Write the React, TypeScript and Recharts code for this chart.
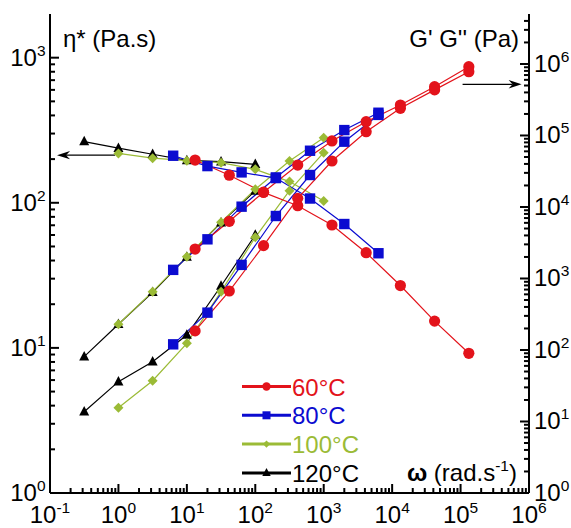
import React from 'react';
import { ComposedChart, Line, XAxis, YAxis, ReferenceLine, Customized } from 'recharts';

const FONT = '"Liberation Sans", Arial, Helvetica, sans-serif';
const FS = 24;
const SUP = 15.5;

const RED = '#E3131B';
const BLUE = '#0B0BD0';
const GREEN = '#9BBB36';
const BLACK = '#000000';

// ---- data ----
const omega60 = [13.2, 41.7, 132, 417, 1320, 4170, 13200, 41700, 132000];
const eta60 = [197, 155, 118, 95.5, 70.3, 45.3, 26.9, 15.3, 9.18];
const gpp60 = [2580, 6310, 16100, 38600, 83800, 156000, 267000, 481000, 916000];
const gp60 = [185, 668, 2880, 13200, 44000, 113000, 240000, 434000, 780000];

const omega80 = [6.31, 20, 63.1, 200, 631, 2000, 6310];
const eta80 = [211, 179, 162, 148, 107, 71.4, 44.9];
const gpp80 = [1320, 3530, 10100, 25900, 61200, 119000, 208000];
const gp80 = [120, 333, 1550, 7480, 28000, 81900, 194000];

const omega100 = [1, 3.16, 10, 31.6, 100, 316, 1000];
const eta100 = [219, 203, 195, 189, 170, 140, 103];
const gpp100 = [229, 655, 2020, 6110, 17700, 44000, 93100];
const gp100 = [15.6, 37.2, 124, 655, 3770, 16900, 57500];

const omega120 = [0.316, 1, 3.16, 10, 31.6, 100];
const eta120 = [264, 238, 216, 196, 192, 184];
const gpp120 = [80.7, 229, 640, 1990, 6040, 16800];
const gp120 = [13.7, 36.1, 68.7, 162, 785, 4060];

const legendLabels = ['60°C', '80°C', '100°C', '120°C'];

const xDomain = [0.1, 1e6];
const etaDomain = [1, 2000];
const gDomain = [1, 5e6];

// arrows (data coordinates)
const etaArrow = [{ x: 0.892, y: 213 }, { x: 0.1266, y: 213 }];
const gArrow = [{ x: 1.07e5, y: 5.2e5 }, { x: 7.8e5, y: 5.2e5 }];

// ---- helpers ----
const decadeTicks = (lo: number, hi: number, extra: number[] = []) => {
  const t: number[] = [];
  for (let e = lo; e < hi; e++) for (let m = 1; m <= 9; m++) t.push(m * Math.pow(10, e));
  t.push(Math.pow(10, hi));
  return t.concat(extra);
};
const xTicks = decadeTicks(-1, 6);
const etaTicks = decadeTicks(0, 3);
const gTicks = decadeTicks(0, 6, [2e6, 3e6, 4e6]);

const isMajor = (v: number) => Math.abs(Math.log10(v) - Math.round(Math.log10(v))) < 1e-6;
const expOf = (v: number) => Math.round(Math.log10(v));

const pts = (xs: number[], ys: number[]) => xs.map((x, i) => ({ x, y: ys[i] }));

const SERIES = [
  { id: 't120', color: BLACK, marker: 'triangle', omega: omega120, eta: eta120, gpp: gpp120, gp: gp120 },
  { id: 't100', color: GREEN, marker: 'diamond', omega: omega100, eta: eta100, gpp: gpp100, gp: gp100 },
  { id: 't80', color: BLUE, marker: 'square', omega: omega80, eta: eta80, gpp: gpp80, gp: gp80 },
  { id: 't60', color: RED, marker: 'circle', omega: omega60, eta: eta60, gpp: gpp60, gp: gp60 },
];

const LEGEND = [
  { label: legendLabels[0], color: RED, marker: 'circle', size: 4.2 },
  { label: legendLabels[1], color: BLUE, marker: 'square', size: 4 },
  { label: legendLabels[2], color: GREEN, marker: 'diamond', size: 3.6 },
  { label: legendLabels[3], color: BLACK, marker: 'triangle', size: 4.2 },
];

const MARKER_SIZE: Record<string, number> = { circle: 5.6, square: 5.2, diamond: 5, triangle: 5 };

function Marker({ cx, cy, kind, color, s }: any) {
  if (cx == null || cy == null || isNaN(cx) || isNaN(cy)) return null;
  switch (kind) {
    case 'circle':
      return <circle cx={cx} cy={cy} r={s} fill={color} />;
    case 'square':
      return <rect x={cx - s} y={cy - s} width={2 * s} height={2 * s} fill={color} />;
    case 'diamond':
      return <polygon points={`${cx},${cy - s} ${cx + s},${cy} ${cx},${cy + s} ${cx - s},${cy}`} fill={color} />;
    default:
      return (
        <polygon
          points={`${cx},${cy - s * 1.15} ${cx + s},${cy + s * 0.75} ${cx - s},${cy + s * 0.75}`}
          fill={color}
        />
      );
  }
}

const Pow = ({ x, y, exp, anchor }: any) => (
  <text x={x} y={y} textAnchor={anchor} fontFamily={FONT} fontSize={FS} fill="#000">
    10
    <tspan dy={-10} fontSize={SUP}>
      {exp}
    </tspan>
  </text>
);

const MAJ = 9;
const MIN = 5;

const XBottomTick = ({ x, y, payload }: any) => {
  const v = payload.value;
  const major = isMajor(v);
  return (
    <g>
      <line x1={x} x2={x} y1={y} y2={y - (major ? MAJ : MIN)} stroke="#000" strokeWidth={2} />
      {major && <Pow x={x} y={y + 29.5} exp={expOf(v)} anchor="middle" />}
    </g>
  );
};

const XTopTick = ({ x, y, payload }: any) => {
  const major = isMajor(payload.value);
  return <line x1={x} x2={x} y1={y} y2={y + (major ? MAJ : MIN)} stroke="#000" strokeWidth={2} />;
};

const YLeftTick = ({ x, y, payload }: any) => {
  const v = payload.value;
  const major = isMajor(v);
  return (
    <g>
      <line x1={x} x2={x + (major ? MAJ : MIN)} y1={y} y2={y} stroke="#000" strokeWidth={2} />
      {major && <Pow x={x - 4.5} y={y + 8} exp={expOf(v)} anchor="end" />}
    </g>
  );
};

const YRightTick = ({ x, y, payload }: any) => {
  const v = payload.value;
  const major = isMajor(v);
  return (
    <g>
      <line x1={x} x2={x - (major ? MAJ : MIN)} y1={y} y2={y} stroke="#000" strokeWidth={2} />
      {major && <Pow x={x + 5} y={y + 8} exp={expOf(v)} anchor="start" />}
    </g>
  );
};

const ArrowShape = (p: any) => {
  const { x1, y1, x2, y2 } = p;
  if ([x1, y1, x2, y2].some((v) => v == null || isNaN(v))) return null;
  const dir = x2 > x1 ? 1 : -1;
  const L = 13;
  const Wd = 4.2;
  const N = 9;
  return (
    <g>
      <line x1={x1} y1={y1} x2={x2 - dir * N} y2={y2} stroke="#000" strokeWidth={1.3} />
      <path
        d={`M${x2},${y2} L${x2 - dir * L},${y2 - Wd} L${x2 - dir * N},${y2} L${x2 - dir * L},${y2 + Wd} Z`}
        fill="#000"
      />
    </g>
  );
};

const Overlay = () => (
  <g fontFamily={FONT}>
    <text x={63} y={47} fontSize={FS} fill="#000">
      η* (Pa.s)
    </text>
    <text x={519} y={47} fontSize={FS} fill="#000" textAnchor="end">
      G' G'' (Pa)
    </text>
    <text x={517} y={481} fontSize={FS} fill="#000" textAnchor="end">
      <tspan fontWeight="bold">ω</tspan> (rad.s
      <tspan dy={-10} fontSize={SUP}>
        -1
      </tspan>
      <tspan dy={10}>)</tspan>
    </text>
    {LEGEND.map((l, i) => {
      const y = 386.5 + i * 28.8;
      return (
        <g key={l.label}>
          <line x1={242} x2={291} y1={y} y2={y} stroke={l.color} strokeWidth={3} />
          <Marker cx={266.5} cy={y} kind={l.marker} color={l.color} s={l.size} />
          <text x={292} y={y + 9} fontSize={FS} fill={l.color}>
            {l.label}
          </text>
        </g>
      );
    })}
  </g>
);

export default function App() {
  const lines: React.ReactNode[] = [];
  SERIES.forEach((s) => {
    (['eta', 'gpp', 'gp'] as const).forEach((k) => {
      const data = pts(s.omega, (s as any)[k]);
      lines.push(
        <Line
          key={`${s.id}-${k}`}
          data={data}
          dataKey="y"
          xAxisId="bottom"
          yAxisId={k === 'eta' ? 'eta' : 'g'}
          type="linear"
          stroke={s.color}
          strokeWidth={1.2}
          isAnimationActive={false}
          activeDot={false}
          legendType="none"
          dot={(p: any) => (
            <Marker
              key={`${s.id}-${k}-${p.index}`}
              cx={p.cx}
              cy={p.cy}
              kind={s.marker}
              color={s.color}
              s={MARKER_SIZE[s.marker]}
            />
          )}
        />
      );
    });
  });

  return (
    <div style={{ position: 'absolute', left: 0, top: 0, width: 571, height: 528, background: '#fff' }}>
      <ComposedChart width={571} height={528} margin={{ top: 14, right: 0, bottom: 0, left: 0 }}>
        <XAxis
          xAxisId="bottom"
          dataKey="x"
          type="number"
          scale="log"
          domain={xDomain}
          allowDataOverflow
          ticks={xTicks}
          interval={0}
          height={35}
          tickSize={0}
          tickMargin={0}
          tickLine={false}
          axisLine={{ stroke: '#000', strokeWidth: 2 }}
          tick={<XBottomTick />}
        />
        <XAxis
          xAxisId="top"
          orientation="top"
          type="number"
          scale="log"
          domain={xDomain}
          allowDataOverflow
          ticks={xTicks}
          interval={0}
          height={0}
          tickSize={0}
          tickMargin={0}
          tickLine={false}
          axisLine={{ stroke: '#000', strokeWidth: 2 }}
          tick={<XTopTick />}
        />
        <YAxis
          yAxisId="eta"
          orientation="left"
          type="number"
          scale="log"
          domain={etaDomain}
          allowDataOverflow
          ticks={etaTicks}
          interval={0}
          width={50}
          tickSize={0}
          tickMargin={0}
          tickLine={false}
          axisLine={{ stroke: '#000', strokeWidth: 2 }}
          tick={<YLeftTick />}
        />
        <YAxis
          yAxisId="g"
          orientation="right"
          type="number"
          scale="log"
          domain={gDomain}
          allowDataOverflow
          ticks={gTicks}
          interval={0}
          width={42}
          tickSize={0}
          tickMargin={0}
          tickLine={false}
          axisLine={{ stroke: '#000', strokeWidth: 2 }}
          tick={<YRightTick />}
        />
        {lines}
        <ReferenceLine xAxisId="bottom" yAxisId="eta" segment={etaArrow} shape={ArrowShape} ifOverflow="visible" />
        <ReferenceLine xAxisId="bottom" yAxisId="g" segment={gArrow} shape={ArrowShape} ifOverflow="visible" />
        <Customized component={Overlay} />
      </ComposedChart>
    </div>
  );
}
